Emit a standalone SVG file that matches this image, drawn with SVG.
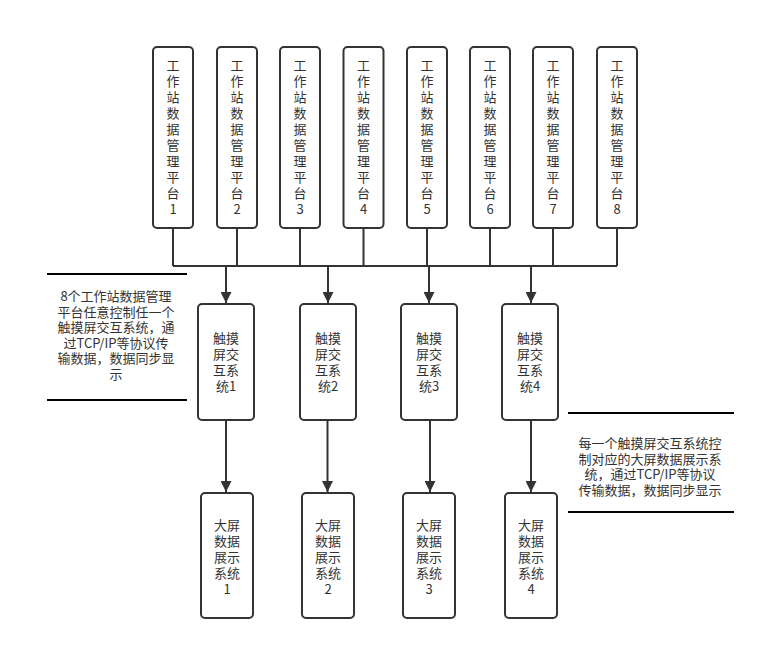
<svg xmlns="http://www.w3.org/2000/svg" width="766" height="650" viewBox="0 0 766 650">
<defs>
<style>
.box{fill:#fff;stroke:#333;stroke-width:2}
.t{font-family:"Noto Sans CJK SC","Liberation Sans",sans-serif;font-size:13px;fill:#333;text-anchor:middle}
.c{fill:none;stroke:#333;stroke-width:2}
.a{fill:none;stroke:#000;stroke-width:2}
</style>
<marker id="ah" viewBox="0 0 10 10" refX="10" refY="5" markerWidth="6.5" markerHeight="5.5" markerUnits="strokeWidth" orient="auto">
<path d="M0,0 L10,5 L0,10 z" fill="#333"/>
</marker>
</defs>
<rect width="766" height="650" fill="#fff"/>
<g id="connectors">
<path class="c" d="M173,228 V266 M237,228 V266 M300,228 V266 M363.5,228 V266 M427,228 V266 M490,228 V266 M553,228 V266 M617,228 V266 M173,266 H617"/>
<path class="c" marker-end="url(#ah)" d="M226,266 V303"/>
<path class="c" marker-end="url(#ah)" d="M328,266 V303"/>
<path class="c" marker-end="url(#ah)" d="M429,266 V303"/>
<path class="c" marker-end="url(#ah)" d="M531,266 V303"/>
<path class="c" marker-end="url(#ah)" d="M226,420 V492"/>
<path class="c" marker-end="url(#ah)" d="M327.5,420 V492"/>
<path class="c" marker-end="url(#ah)" d="M430,420 V492"/>
<path class="c" marker-end="url(#ah)" d="M531,420 V492"/>
</g>
<g id="ws1"><rect class="box" x="153" y="47" width="40" height="181" rx="4"/>
<text class="t"><tspan x="173" y="70">工</tspan><tspan x="173" y="86">作</tspan><tspan x="173" y="102">站</tspan><tspan x="173" y="118">数</tspan><tspan x="173" y="134">据</tspan><tspan x="173" y="150">管</tspan><tspan x="173" y="166">理</tspan><tspan x="173" y="182">平</tspan><tspan x="173" y="198">台</tspan><tspan x="173" y="214">1</tspan></text></g>
<g id="ws2"><rect class="box" x="217" y="47" width="40" height="181" rx="4"/>
<text class="t"><tspan x="237" y="70">工</tspan><tspan x="237" y="86">作</tspan><tspan x="237" y="102">站</tspan><tspan x="237" y="118">数</tspan><tspan x="237" y="134">据</tspan><tspan x="237" y="150">管</tspan><tspan x="237" y="166">理</tspan><tspan x="237" y="182">平</tspan><tspan x="237" y="198">台</tspan><tspan x="237" y="214">2</tspan></text></g>
<g id="ws3"><rect class="box" x="280" y="47" width="40" height="181" rx="4"/>
<text class="t"><tspan x="300" y="70">工</tspan><tspan x="300" y="86">作</tspan><tspan x="300" y="102">站</tspan><tspan x="300" y="118">数</tspan><tspan x="300" y="134">据</tspan><tspan x="300" y="150">管</tspan><tspan x="300" y="166">理</tspan><tspan x="300" y="182">平</tspan><tspan x="300" y="198">台</tspan><tspan x="300" y="214">3</tspan></text></g>
<g id="ws4"><rect class="box" x="343.5" y="47" width="40" height="181" rx="4"/>
<text class="t"><tspan x="363.5" y="70">工</tspan><tspan x="363.5" y="86">作</tspan><tspan x="363.5" y="102">站</tspan><tspan x="363.5" y="118">数</tspan><tspan x="363.5" y="134">据</tspan><tspan x="363.5" y="150">管</tspan><tspan x="363.5" y="166">理</tspan><tspan x="363.5" y="182">平</tspan><tspan x="363.5" y="198">台</tspan><tspan x="363.5" y="214">4</tspan></text></g>
<g id="ws5"><rect class="box" x="407" y="47" width="40" height="181" rx="4"/>
<text class="t"><tspan x="427" y="70">工</tspan><tspan x="427" y="86">作</tspan><tspan x="427" y="102">站</tspan><tspan x="427" y="118">数</tspan><tspan x="427" y="134">据</tspan><tspan x="427" y="150">管</tspan><tspan x="427" y="166">理</tspan><tspan x="427" y="182">平</tspan><tspan x="427" y="198">台</tspan><tspan x="427" y="214">5</tspan></text></g>
<g id="ws6"><rect class="box" x="470" y="47" width="40" height="181" rx="4"/>
<text class="t"><tspan x="490" y="70">工</tspan><tspan x="490" y="86">作</tspan><tspan x="490" y="102">站</tspan><tspan x="490" y="118">数</tspan><tspan x="490" y="134">据</tspan><tspan x="490" y="150">管</tspan><tspan x="490" y="166">理</tspan><tspan x="490" y="182">平</tspan><tspan x="490" y="198">台</tspan><tspan x="490" y="214">6</tspan></text></g>
<g id="ws7"><rect class="box" x="533" y="47" width="40" height="181" rx="4"/>
<text class="t"><tspan x="553" y="70">工</tspan><tspan x="553" y="86">作</tspan><tspan x="553" y="102">站</tspan><tspan x="553" y="118">数</tspan><tspan x="553" y="134">据</tspan><tspan x="553" y="150">管</tspan><tspan x="553" y="166">理</tspan><tspan x="553" y="182">平</tspan><tspan x="553" y="198">台</tspan><tspan x="553" y="214">7</tspan></text></g>
<g id="ws8"><rect class="box" x="597" y="47" width="40" height="181" rx="4"/>
<text class="t"><tspan x="617" y="70">工</tspan><tspan x="617" y="86">作</tspan><tspan x="617" y="102">站</tspan><tspan x="617" y="118">数</tspan><tspan x="617" y="134">据</tspan><tspan x="617" y="150">管</tspan><tspan x="617" y="166">理</tspan><tspan x="617" y="182">平</tspan><tspan x="617" y="198">台</tspan><tspan x="617" y="214">8</tspan></text></g>
<g id="touch1"><rect class="box" x="198" y="304" width="56" height="116" rx="4"/>
<text class="t"><tspan x="226" y="343">触摸</tspan><tspan x="226" y="359">屏交</tspan><tspan x="226" y="375">互系</tspan><tspan x="226" y="391">统1</tspan></text></g>
<g id="touch2"><rect class="box" x="300" y="304" width="56" height="116" rx="4"/>
<text class="t"><tspan x="328" y="343">触摸</tspan><tspan x="328" y="359">屏交</tspan><tspan x="328" y="375">互系</tspan><tspan x="328" y="391">统2</tspan></text></g>
<g id="touch3"><rect class="box" x="401" y="304" width="56" height="116" rx="4"/>
<text class="t"><tspan x="429" y="343">触摸</tspan><tspan x="429" y="359">屏交</tspan><tspan x="429" y="375">互系</tspan><tspan x="429" y="391">统3</tspan></text></g>
<g id="touch4"><rect class="box" x="502" y="304" width="56" height="116" rx="4"/>
<text class="t"><tspan x="530" y="343">触摸</tspan><tspan x="530" y="359">屏交</tspan><tspan x="530" y="375">互系</tspan><tspan x="530" y="391">统4</tspan></text></g>
<g id="screen1"><rect class="box" x="201" y="493" width="52" height="125" rx="4"/>
<text class="t"><tspan x="227" y="530">大屏</tspan><tspan x="227" y="546">数据</tspan><tspan x="227" y="562">展示</tspan><tspan x="227" y="578">系统</tspan><tspan x="227" y="594">1</tspan></text></g>
<g id="screen2"><rect class="box" x="302" y="493" width="52" height="125" rx="4"/>
<text class="t"><tspan x="328" y="530">大屏</tspan><tspan x="328" y="546">数据</tspan><tspan x="328" y="562">展示</tspan><tspan x="328" y="578">系统</tspan><tspan x="328" y="594">2</tspan></text></g>
<g id="screen3"><rect class="box" x="403" y="493" width="52" height="125" rx="4"/>
<text class="t"><tspan x="429" y="530">大屏</tspan><tspan x="429" y="546">数据</tspan><tspan x="429" y="562">展示</tspan><tspan x="429" y="578">系统</tspan><tspan x="429" y="594">3</tspan></text></g>
<g id="screen4"><rect class="box" x="505" y="493" width="52" height="125" rx="4"/>
<text class="t"><tspan x="531" y="530">大屏</tspan><tspan x="531" y="546">数据</tspan><tspan x="531" y="562">展示</tspan><tspan x="531" y="578">系统</tspan><tspan x="531" y="594">4</tspan></text></g>
<g id="note-left">
<path class="a" d="M47,274 H187 M47,400 H187"/>
<text class="t"><tspan x="116" y="301">8个工作站数据管理</tspan><tspan x="116" y="316.5">平台任意控制任一个</tspan><tspan x="116" y="332">触摸屏交互系统，通</tspan><tspan x="116" y="347.5">过TCP/IP等协议传</tspan><tspan x="116" y="363">输数据，数据同步显</tspan><tspan x="116" y="378.5">示</tspan></text>
</g>
<g id="note-right">
<path class="a" d="M568,413 H734 M568,512 H734"/>
<text class="t"><tspan x="650" y="448">每一个触摸屏交互系统控</tspan><tspan x="650" y="463.5">制对应的大屏数据展示系</tspan><tspan x="650" y="479">统，通过TCP/IP等协议</tspan><tspan x="650" y="494.5">传输数据，数据同步显示</tspan></text>
</g>
</svg>
